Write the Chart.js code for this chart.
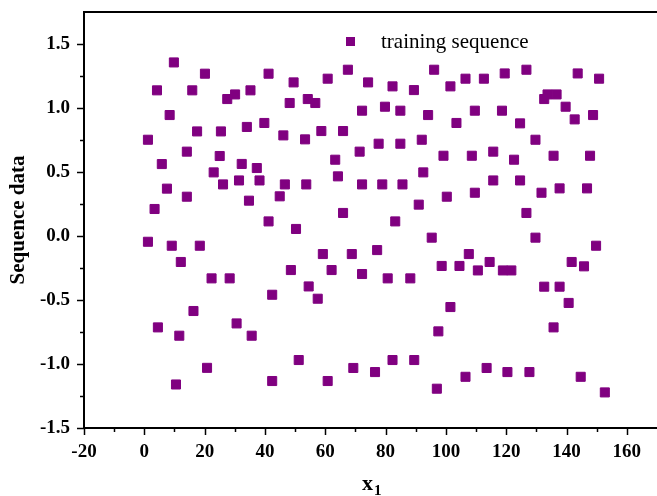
<!DOCTYPE html>
<html>
<head>
<meta charset="utf-8">
<script src="https://cdn.jsdelivr.net/npm/chart.js@4.4.0/dist/chart.umd.min.js"></script>
<style>
    html, body { margin: 0; padding: 0; background: #fff; overflow: hidden; }
    #chart { display: block; }
</style>
</head>
<body>
<canvas id="chart" width="657" height="496"></canvas>
<script>
// values
const seriesLabel = "training sequence";

const xValues = [
    1.2, 1.2, 3.4, 4.2, 4.5, 5.8, 7.5, 8.4, 9.1, 9.8, 10.5, 11.6, 12.1, 14.1, 14.1, 15.9, 16.3, 17.5, 18.4, 20.1,
    20.8, 22.3, 23.0, 25.0, 25.4, 26.1, 27.5, 28.3,
    30.1, 30.6, 31.4, 32.3, 34.0, 34.7, 35.2, 35.6, 37.3, 38.2, 39.8, 41.2, 41.2, 42.4, 42.4, 44.9, 46.1, 46.6,
    48.2, 48.6, 49.5, 50.3, 51.2, 53.3, 53.7, 54.2, 54.5, 56.7, 57.5, 58.7, 59.2, 60.8, 60.8, 62.1, 63.3, 64.2,
    65.9, 65.9, 67.5, 68.8, 69.3, 71.4, 72.2, 72.2, 72.2, 74.2,
    76.5, 77.2, 77.7, 78.9, 79.8, 80.7, 82.3, 82.3, 83.2, 84.9, 84.9, 85.6, 88.2, 89.4, 89.5, 91.0, 92.0, 92.5,
    94.1, 95.3, 96.1, 97.0, 97.5, 98.6, 99.2, 100.3, 101.5, 101.5, 103.5, 104.5, 106.5, 106.5, 107.6, 108.6,
    109.6, 109.6, 110.6, 112.6, 113.5, 114.5, 115.7, 115.7, 118.6, 118.9, 119.5, 120.4, 121.7, 122.6, 124.6,
    124.6, 126.7, 126.7, 127.7, 129.7, 129.7, 131.7, 132.6, 132.6, 133.7, 135.7, 135.7, 136.7, 137.7, 137.7,
    139.7, 140.7, 141.7, 142.7, 143.7, 144.7, 145.8, 146.8, 147.8, 148.8, 149.8, 150.8, 152.7
];

const yValues = [
    0.752, -0.045, 0.211, 1.138, -0.714, 0.562, 0.37, 0.945, -0.076, 1.356, -1.16, -0.779, -0.203, 0.659, 0.307,
    1.138, -0.586, 0.817, -0.076, 1.268, -1.03, -0.331, 0.497, 0.625, 0.817, 0.403, 1.07, -0.331,
    1.106, -0.683, 0.434, 0.563, 0.852, 0.276, 1.138, -0.779, 0.531, 0.434, 0.883, 1.268, 0.114, -0.459, -1.133,
    0.31, 0.786, 0.403, 1.039, -0.266, 1.20, 0.055, -0.969, 0.755, 0.403, 1.07, -0.394, 1.039, -0.49, 0.82,
    -0.141, 1.229, -1.133, -0.266, 0.596, 0.466, 0.82, 0.18, 1.299, -0.141, -1.031, 0.659, 0.979, 0.403, -0.297, 1.20,
    -1.063, -0.11, 0.721, 0.403, 1.01, -0.331, 1.169, -0.969, 0.114, 0.979, 0.721, 0.403, -0.331, 1.14, -0.969,
    0.245, 0.752, 0.497, 0.945, -0.013, 1.299, -1.193, -0.745, -0.234, 0.627, 0.307, 1.169, -0.555, 0.883, -0.234,
    1.229, -1.10, -0.141, 0.627, 0.979, 0.338, -0.269, 1.229, -1.031, -0.203, 0.659, 0.434, 0.979, -0.269, 1.27,
    -1.063, -0.269, 0.596, 0.88, 0.434, 1.299, 0.18, -1.063, 0.752, -0.013, 0.338, 1.07, -0.396, 1.106, 0.627,
    -0.714, 1.106, 0.372, -0.396, 1.01, -0.523, -0.203, 0.911, 1.27, -1.10, -0.237, 0.372, 0.627, 0.945, -0.076,
    1.229, -1.222
];

const xTickLabels = [-20, 0, 20, 40, 60, 80, 100, 120, 140, 160];
const yTickLabels = [-1.5, -1.0, -0.5, 0.0, 0.5, 1.0, 1.5];

(function () {
    const palette = {
        purple: "#800080",
        ink: "#000000"
    };
    const serif = "'Liberation Serif', 'Times New Roman', serif";

    function isLabelled(list, v) {
        return list.some(t => Math.abs(t - v) < 1e-6);
    }

    // fixed box sizes, no extra room for overhanging labels
    function fitBox(scale, size) {
        if (scale.isHorizontal()) scale.height = size; else scale.width = size;
        scale.paddingTop = 0;
        scale.paddingBottom = 0;
        scale.paddingLeft = 0;
        scale.paddingRight = 0;
    }

    // frame top line, tick marks, axis title with subscript, legend
    const decorPlugin = {
        id: "decor",
        afterDraw(chart) {
            const { ctx, chartArea, scales } = chart;
            ctx.save();
            ctx.strokeStyle = palette.ink;

            ctx.lineWidth = 2;
            ctx.beginPath();
            ctx.moveTo(chartArea.left, chartArea.top);
            ctx.lineTo(chartArea.right, chartArea.top);
            ctx.stroke();

            ctx.lineWidth = 1.5;
            scales.x.ticks.forEach(t => {
                if (t.value > 165) return;
                const px = Math.round(scales.x.getPixelForValue(t.value)) + 0.5;
                const len = isLabelled(xTickLabels, t.value) ? 7 : 4;
                ctx.beginPath();
                ctx.moveTo(px, chartArea.bottom);
                ctx.lineTo(px, chartArea.bottom + len);
                ctx.stroke();
            });
            scales.y.ticks.forEach(t => {
                if (t.value > 1.7) return;
                const py = Math.round(scales.y.getPixelForValue(t.value)) + 0.5;
                const len = isLabelled(yTickLabels, t.value) ? 7 : 4;
                ctx.beginPath();
                ctx.moveTo(chartArea.left, py);
                ctx.lineTo(chartArea.left - len, py);
                ctx.stroke();
            });

            // x axis title: x with subscript 1
            ctx.fillStyle = palette.ink;
            ctx.textBaseline = "alphabetic";
            ctx.textAlign = "left";
            ctx.font = `bold 22px ${serif}`;
            ctx.fillText("x", 362, 490);
            ctx.font = `bold 15px ${serif}`;
            ctx.fillText("1", 374, 495);

            // legend
            const ds = chart.data.datasets[0];
            ctx.fillStyle = ds.backgroundColor;
            ctx.fillRect(346, 37, 9, 9);
            ctx.fillStyle = palette.ink;
            ctx.font = `21px ${serif}`;
            ctx.textBaseline = "middle";
            ctx.fillText(ds.label, 381, 42);
            ctx.restore();
        }
    };

    new Chart(document.getElementById("chart"), {
        type: "scatter",
        data: {
            datasets: [{
                label: seriesLabel,
                data: xValues.map((x, i) => ({ x: x, y: yValues[i] })),
                pointStyle: "rect",
                pointRadius: 6.4,
                pointHoverRadius: 6.4,
                borderWidth: 1,
                backgroundColor: palette.purple,
                borderColor: palette.purple
            }]
        },
        plugins: [decorPlugin],
        options: {
            responsive: false,
            animation: false,
            devicePixelRatio: 1,
            layout: { autoPadding: false, padding: { top: 12, right: 0, left: 0, bottom: 0 } },
            plugins: {
                legend: { display: false },
                tooltip: { enabled: false }
            },
            scales: {
                x: {
                    type: "linear",
                    min: -20,
                    max: 170,
                    afterFit(scale) { fitBox(scale, 68); },
                    grid: { display: false },
                    border: { display: true, color: palette.ink, width: 2 },
                    ticks: {
                        stepSize: 10,
                        autoSkip: false,
                        maxRotation: 0,
                        padding: 5,
                        color: palette.ink,
                        font: { family: serif, size: 19, weight: "bold" },
                        callback: v => isLabelled(xTickLabels, v) ? String(v) : ""
                    }
                },
                y: {
                    min: -1.5,
                    max: 1.75,
                    afterFit(scale) { fitBox(scale, 84); },
                    grid: { display: false },
                    border: { display: true, color: palette.ink, width: 2 },
                    ticks: {
                        stepSize: 0.25,
                        autoSkip: false,
                        padding: 6,
                        color: palette.ink,
                        font: { family: serif, size: 19, weight: "bold" },
                        callback: v => isLabelled(yTickLabels, v) ? v.toFixed(1) : ""
                    },
                    title: {
                        display: true,
                        text: "Sequence data",
                        color: palette.ink,
                        padding: { top: 6, bottom: 0 },
                        font: { family: serif, size: 21, weight: "bold" }
                    }
                }
            }
        }
    });
})();
</script>
</body>
</html>
